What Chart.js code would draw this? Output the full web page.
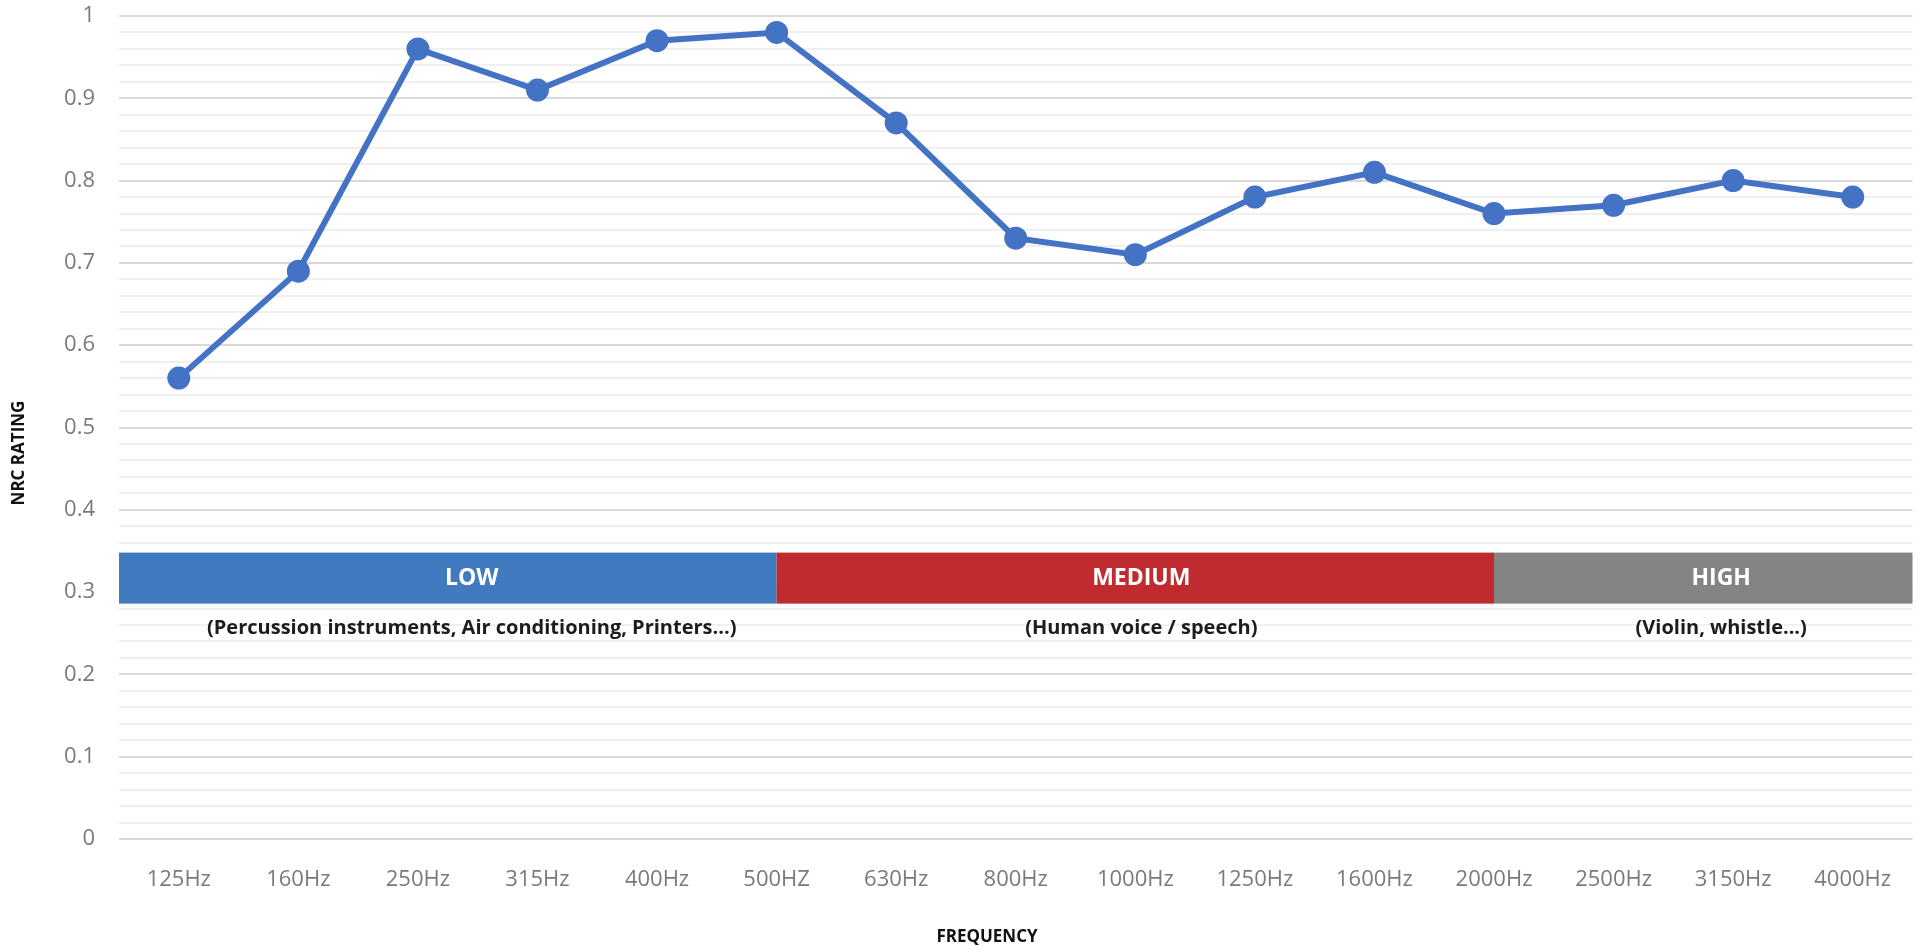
<!DOCTYPE html>
<html>
<head>
<meta charset="utf-8">
<script src="https://cdn.jsdelivr.net/npm/chart.js@4.4.1/dist/chart.umd.min.js"></script>
<style>
	html, body { margin: 0; padding: 0; background: #fff; }
	#wrap { width: 1927px; height: 946px; position: relative; }
</style>
</head>
<body>
<div id="wrap"><canvas id="myChart"></canvas></div>
<script>
// chart data
const frequencies = ['125Hz', '160Hz', '250Hz', '315Hz', '400Hz', '500HZ', '630Hz', '800Hz',
	'1000Hz', '1250Hz', '1600Hz', '2000Hz', '2500Hz', '3150Hz', '4000Hz'];
const nrcRating = [0.56, 0.69, 0.96, 0.91, 0.97, 0.98, 0.87, 0.73, 0.71, 0.78, 0.81, 0.76, 0.77, 0.80, 0.78];

// frequency bands (from / to are category positions, -0.5 and 14.5 are the plot edges)
const bandNames = ['LOW', 'MEDIUM', 'HIGH'];
const bandNotes = ['(Percussion instruments, Air conditioning, Printers...)', '(Human voice / speech)', '(Violin, whistle...)'];
const bandFrom = [-0.5, 5, 11];
const bandTo = [5, 11, 14.5];
const bandTextAt = [2.45, 8.05, 12.9];
const bandColors = ['#3a75bc', '#bd2228', '#7f7f7f'];
const bandLow = 0.286;
const bandHigh = 0.348;

const yTitle = 'NRC RATING';
const xTitle = 'FREQUENCY';

const ctx = document.getElementById('myChart');

function isMajor(v) {
	return Math.abs(Math.round(v * 10) - v * 10) < 1e-6;
}

const bandPlugin = {
	id: 'bands',
	beforeDatasetsDraw(chart) {
		const c = chart.ctx;
		const x = chart.scales.x;
		const y = chart.scales.y;
		const top = y.getPixelForValue(bandHigh);
		const bottom = y.getPixelForValue(bandLow);
		c.save();
		for (let i = 0; i < bandNames.length; i++) {
			const left = x.getPixelForValue(bandFrom[i]);
			const right = x.getPixelForValue(bandTo[i]);
			c.globalAlpha = 0.96;
			c.fillStyle = bandColors[i];
			c.fillRect(left, top, right - left, bottom - top);
			c.globalAlpha = 1;
			const tx = x.getPixelForValue(bandTextAt[i]);
			c.textAlign = 'center';
			c.textBaseline = 'middle';
			c.fillStyle = '#ffffff';
			c.font = 'bold 23px "Open Sans"';
			c.fillText(bandNames[i], tx, (top + bottom) / 2);
			c.fillStyle = '#1c1c1c';
			c.font = 'bold 20px "Open Sans"';
			c.fillText(bandNotes[i], tx, bottom + 25);
		}
		c.restore();
	},
	afterDraw(chart) {
		const c = chart.ctx;
		c.save();
		c.fillStyle = '#111111';
		c.font = 'bold 17px "Open Sans"';
		c.textAlign = 'center';
		c.textBaseline = 'middle';
		c.fillText(xTitle, 987, 937);
		c.translate(19, 453);
		c.rotate(-Math.PI / 2);
		c.fillText(yTitle, 0, 0);
		c.restore();
	}
};

new Chart(ctx, {
	type: 'line',
	data: {
		labels: frequencies,
		datasets: [{
			label: 'NRC Rating',
			data: nrcRating,
			borderColor: '#4472c4',
			backgroundColor: '#4472c4',
			borderWidth: 6,
			pointRadius: 8.5,
			pointHoverRadius: 8.5,
			tension: 0
		}]
	},
	options: {
		responsive: true,
		maintainAspectRatio: false,
		animation: false,
		layout: { padding: { top: 16, right: 3, left: 0, bottom: 0 } },
		plugins: {
			legend: { display: false },
			tooltip: { enabled: false }
		},
		scales: {
			x: {
				offset: true,
				grid: { display: false },
				border: { display: false },
				ticks: {
					autoSkip: false,
					maxRotation: 0,
					padding: 20,
					color: '#7a7a7a',
					font: { family: 'Open Sans', size: 22 }
				},
				afterFit: (s) => {
					s.height = 107;
					s.paddingLeft = 0;
					s.paddingRight = 0;
				}
			},
			y: {
				min: 0,
				max: 1,
				border: { display: false },
				grid: {
					drawTicks: false,
					color: (c) => isMajor(c.tick.value) ? '#d9d9d9' : '#f0f0f0',
					lineWidth: 2
				},
				ticks: {
					stepSize: 0.02,
					autoSkip: false,
					padding: 24,
					color: '#7a7a7a',
					font: { family: 'Open Sans', size: 22 },
					callback: (v) => isMajor(v) ? String(Math.round(v * 10) / 10) : ''
				},
				afterFit: (s) => {
					s.width = 119;
					s.paddingTop = 0;
					s.paddingBottom = 0;
				}
			}
		}
	},
	plugins: [bandPlugin]
});
</script>
</body>
</html>
